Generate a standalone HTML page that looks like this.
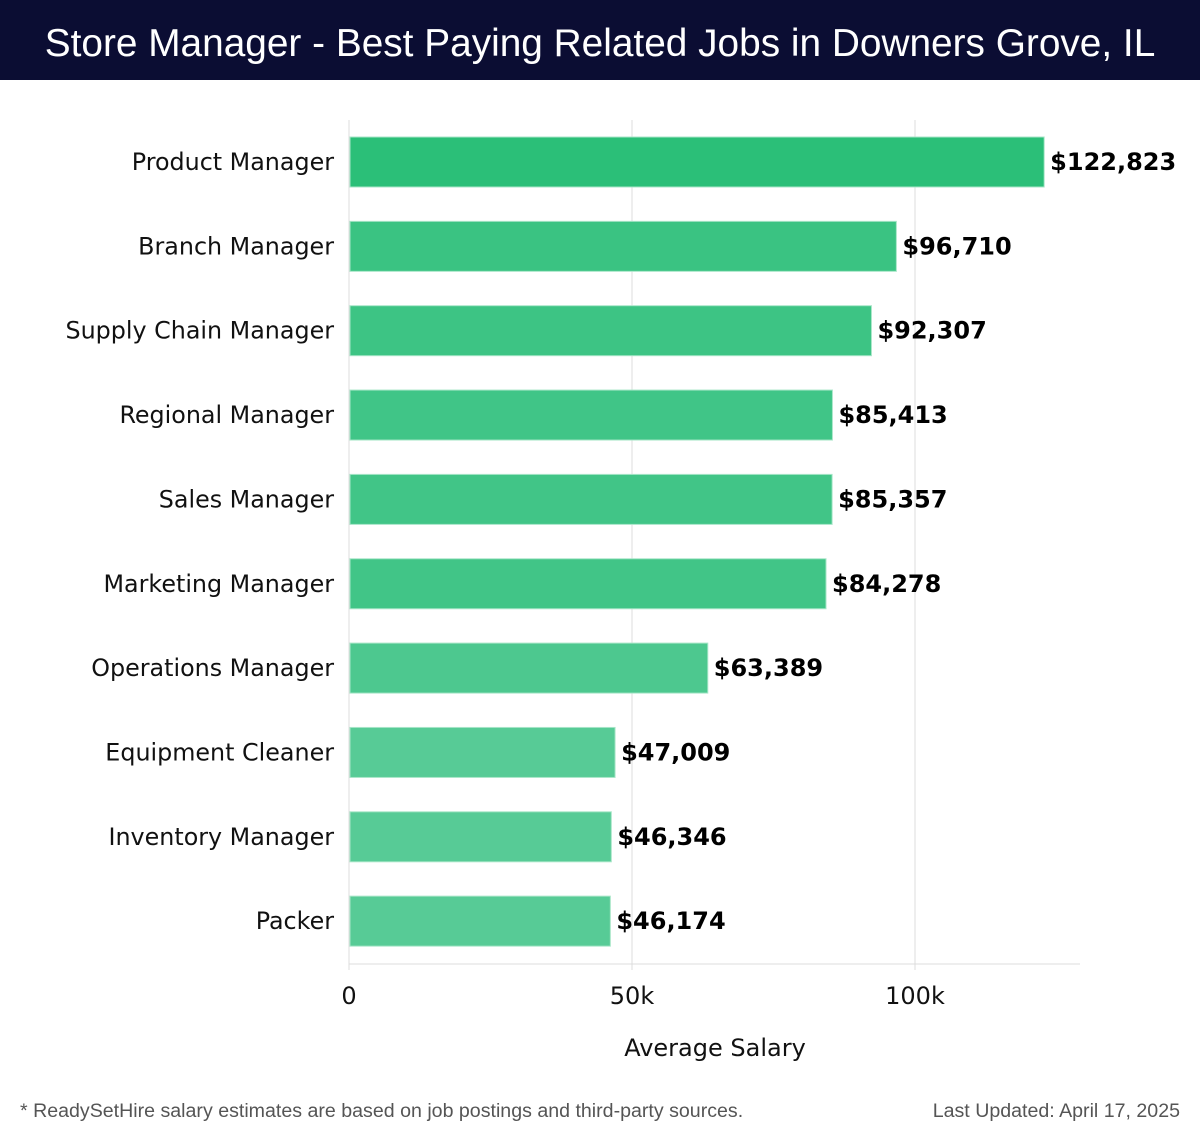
<!DOCTYPE html>
<html><head><meta charset="utf-8">
<style>
body{margin:0;width:1200px;height:1140px;background:#fff;overflow:hidden;font-family:"DejaVu Sans","Liberation Sans",sans-serif;}
#hdr{position:absolute;left:0;top:0;width:1200px;height:80px;background:#0b0d33;color:#fff;font-family:"Liberation Sans",sans-serif;font-size:38.8px;text-align:center;line-height:88px;}
.foot{position:absolute;top:1100px;font-family:"Liberation Sans",sans-serif;font-size:19.6px;color:#555;}
</style></head><body>
<div id="hdr">Store Manager - Best Paying Related Jobs in Downers Grove, IL</div>
<svg id="chart" width="1200" height="1140" style="position:absolute;left:0;top:0"></svg>
<div class="foot" style="left:20px">* ReadySetHire salary estimates are based on job postings and third-party sources.</div>
<div class="foot" style="right:20px">Last Updated: April 17, 2025</div>
<script>
const categories=["Product Manager","Branch Manager","Supply Chain Manager","Regional Manager","Sales Manager","Marketing Manager","Operations Manager","Equipment Cleaner","Inventory Manager","Packer"];
const values=[122823,96710,92307,85413,85357,84278,63389,47009,46346,46174];
const tickValues=[0,50000,100000];
const tickLabels=["0","50k","100k"];
const NS="http://www.w3.org/2000/svg";
const svg=document.getElementById('chart');
const x0=349,pxPer=283/50000,top0=120,step=84.35,barH=50,axisY=964,xEnd=1080;
const xs=v=>x0+v*pxPer;
const yc=i=>top0+42+i*step;
function mk(t,a){const e=document.createElementNS(NS,t);for(const k in a)e.setAttribute(k,a[k]);svg.appendChild(e);return e;}
tickValues.forEach((v,i)=>{
  const g=mk('line',{x1:xs(v),x2:xs(v),y1:top0,y2:axisY+6,stroke:'#dcdcdc','stroke-width':1});
  
  
  const t=mk('text',{x:xs(v),y:1004,'text-anchor':'middle','font-size':24,fill:'#111'});
  t.textContent=tickLabels[i];
  
  
});
const ax=mk('line',{x1:x0,x2:xEnd,y1:axisY,y2:axisY,stroke:'#dcdcdc','stroke-width':1});


const maxV=Math.max(...values),minV=Math.min(...values);
function col(v){const f=(maxV-v)/(maxV-minV||1);const a=[43,191,120],b=[87,203,150];return 'rgb('+a.map((c,i)=>Math.round(c+(b[i]-c)*f)).join(',')+')';}
categories.forEach((c,i)=>{
  const y=yc(i);
  const r=mk('rect',{x:x0+1,y:y-barH/2,width:xs(values[i])-x0-1,height:barH,fill:col(values[i]),stroke:'#a8e6c8','stroke-width':1});
  
  
  const l=mk('text',{x:334,y:y+8,'text-anchor':'end','font-size':23.8,fill:'#111'});
  l.textContent=c;
  
  
  const v=mk('text',{x:xs(values[i])+6,y:y+8,'font-size':24,'font-weight':'bold',fill:'#000'});
  v.textContent='$'+values[i].toLocaleString('en-US');
  
  
});
const at=mk('text',{x:715,y:1056,'text-anchor':'middle','font-size':24,fill:'#111'});
at.textContent='Average Salary';


</script>
</body></html>
